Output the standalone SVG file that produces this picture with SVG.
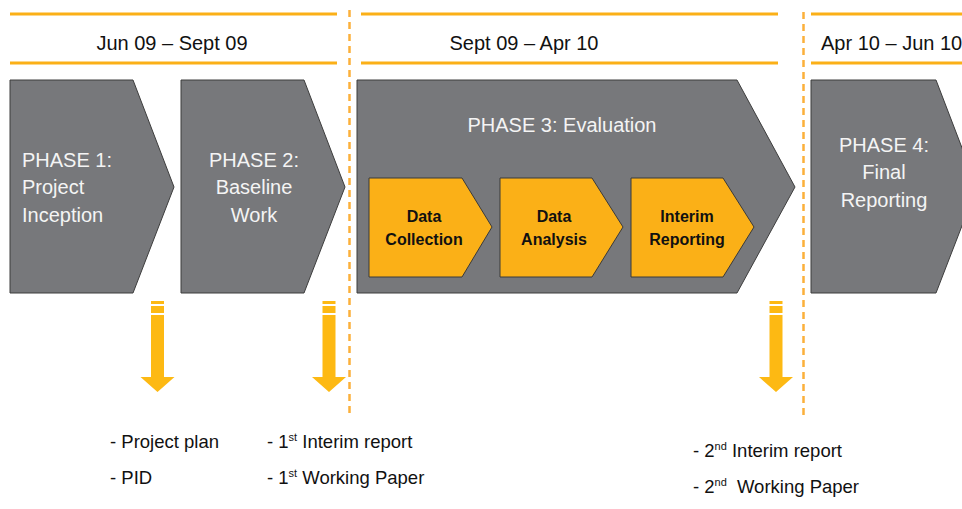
<svg xmlns="http://www.w3.org/2000/svg" width="962" height="509" viewBox="0 0 962 509">
<style>
.hline{stroke:#FBB017;stroke-width:3;fill:none}
.vdash{stroke:#FBB03B;stroke-width:2.5;stroke-dasharray:7 5;fill:none}
.date{font-family:"Liberation Sans",Arial,sans-serif;font-size:20px;fill:#111}
.phase{fill:#77787B;stroke:#3d3d3d;stroke-width:1}
.ptxt{font-family:"Liberation Sans",Arial,sans-serif;font-size:20px;fill:#F4F4F4}
.act{fill:#FBB017;stroke:#3a3a3a;stroke-width:1}
.atxt{font-family:"Liberation Sans",Arial,sans-serif;font-size:16px;font-weight:bold;fill:#111;text-anchor:middle}
.arrow{fill:#FDB913}
.del{font-family:"Liberation Sans",Arial,sans-serif;font-size:18.5px;fill:#111}
.sup{font-size:11px}
</style>

<!-- header lines -->
<g id="headers">
  <line class="hline" x1="10" y1="14" x2="337" y2="14"/>
  <line class="hline" x1="10" y1="63" x2="337" y2="63"/>
  <line class="hline" x1="361" y1="14" x2="778" y2="14"/>
  <line class="hline" x1="361" y1="63" x2="778" y2="63"/>
  <line class="hline" x1="811" y1="14" x2="962" y2="14"/>
  <line class="hline" x1="811" y1="63" x2="962" y2="63"/>
  <text class="date" x="172" y="50" text-anchor="middle">Jun 09 – Sept 09</text>
  <text class="date" x="524" y="50" text-anchor="middle">Sept 09 – Apr 10</text>
  <text class="date" x="821" y="50">Apr 10 – Jun 10</text>
</g>

<!-- dashed separators -->
<g id="separators">
  <line class="vdash" x1="349.5" y1="10" x2="349.5" y2="414"/>
  <line class="vdash" x1="803.5" y1="12" x2="803.5" y2="416"/>
</g>

<g id="phase1">
  <polygon class="phase" points="10,80 133,80 174,187 133,293 10,293"/>
  <text class="ptxt" x="22" y="167">PHASE 1:</text>
  <text class="ptxt" x="22" y="194">Project</text>
  <text class="ptxt" x="22" y="222">Inception</text>
</g>

<g id="phase2">
  <polygon class="phase" points="181,80 304,80 345,187 304,293 181,293"/>
  <text class="ptxt" x="254" y="167" text-anchor="middle">PHASE 2:</text>
  <text class="ptxt" x="254" y="194" text-anchor="middle">Baseline</text>
  <text class="ptxt" x="254" y="222" text-anchor="middle">Work</text>
</g>

<g id="phase3">
  <polygon class="phase" points="357,80 737,80 795,187 737,293 357,293"/>
  <text class="ptxt" x="562" y="132" text-anchor="middle">PHASE 3: Evaluation</text>
</g>

<g id="data-collection">
  <polygon class="act" points="369,178 462,178 492,227 462,277 369,277"/>
  <text class="atxt" x="424" y="222">Data</text>
  <text class="atxt" x="424" y="245">Collection</text>
</g>

<g id="data-analysis">
  <polygon class="act" points="500,178 592,178 623,227 592,277 500,277"/>
  <text class="atxt" x="554" y="222">Data</text>
  <text class="atxt" x="554" y="245">Analysis</text>
</g>

<g id="interim-reporting">
  <polygon class="act" points="631,178 723,178 754,227 723,277 631,277"/>
  <text class="atxt" x="687" y="222">Interim</text>
  <text class="atxt" x="687" y="245">Reporting</text>
</g>

<g id="phase4">
  <polygon class="phase" points="811,80 936,80 977,187 936,293 811,293"/>
  <text class="ptxt" x="884" y="152" text-anchor="middle">PHASE 4:</text>
  <text class="ptxt" x="884" y="179" text-anchor="middle">Final</text>
  <text class="ptxt" x="884" y="207" text-anchor="middle">Reporting</text>
</g>

<defs>
  <g id="downarrow">
    <rect class="arrow" x="-6.5" y="301" width="13" height="3"/>
    <rect class="arrow" x="-6.5" y="306" width="13" height="7"/>
    <polygon class="arrow" points="-6.5,315 6.5,315 6.5,377 17,377 0,392 -17,377 -6.5,377"/>
  </g>
</defs>

<g id="connectors">
  <use href="#downarrow" x="157.5" y="0"/>
  <use href="#downarrow" x="329" y="0"/>
  <use href="#downarrow" x="776" y="0"/>
</g>

<g id="deliverables1">
  <text class="del" x="110" y="448">- Project plan</text>
  <text class="del" x="110" y="484">- PID</text>
</g>

<g id="deliverables2">
  <text class="del" x="267" y="448">- 1<tspan class="sup" dy="-7">st</tspan><tspan dy="7"> Interim report</tspan></text>
  <text class="del" x="267" y="484">- 1<tspan class="sup" dy="-7">st</tspan><tspan dy="7"> Working Paper</tspan></text>
</g>

<g id="deliverables3">
  <text class="del" x="693" y="457">- 2<tspan class="sup" dy="-7">nd</tspan><tspan dy="7"> Interim report</tspan></text>
  <text class="del" x="693" y="493">- 2<tspan class="sup" dy="-7">nd</tspan><tspan dy="7" dx="5"> Working Paper</tspan></text>
</g>
</svg>
